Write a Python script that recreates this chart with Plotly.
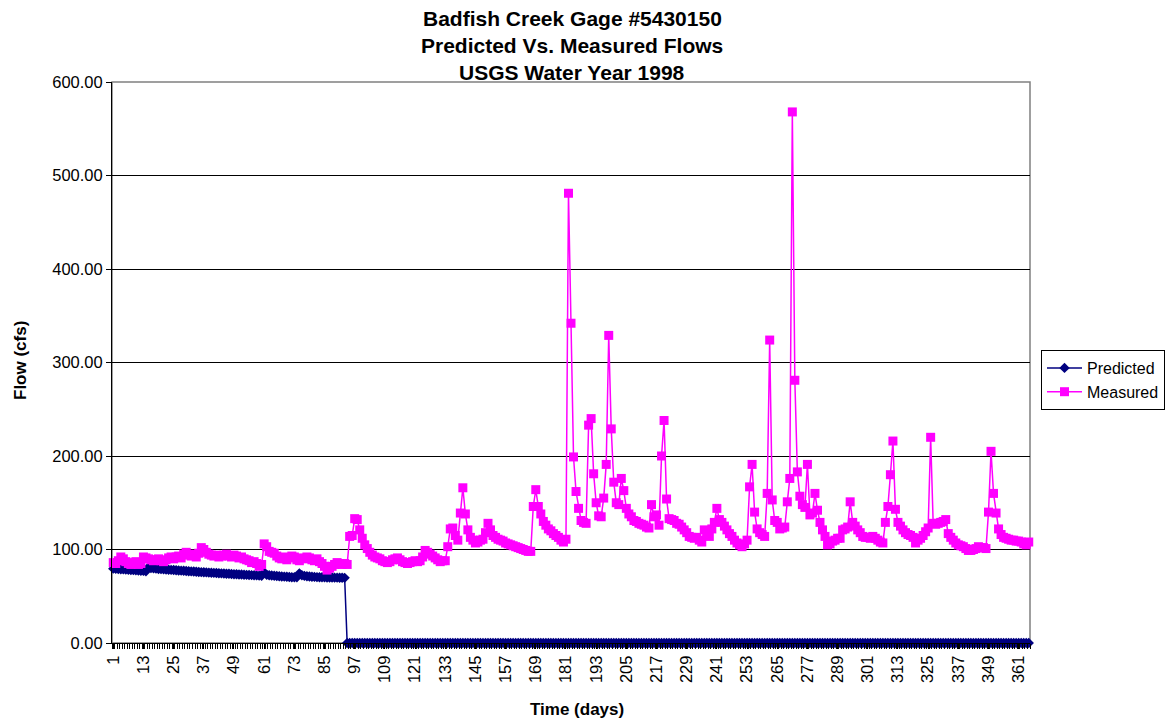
import plotly.graph_objects as go

days = list(range(1, 366))

predicted_first = [
    79.5, 79.3, 79.1, 78.9, 78.7, 78.5, 78.3, 78.1, 77.9, 77.7, 77.5, 77.3, 77.1, 76.8,
    81.0, 80.2, 79.8, 79.5, 79.2, 79.0, 78.8, 78.6, 78.4, 78.2, 78.0, 77.8, 77.6, 77.4,
    77.2, 77.0, 76.8, 76.6, 76.4, 76.2, 76.0, 75.8, 75.7, 75.5, 75.3, 75.1, 75.0, 74.8,
    74.6, 74.5, 74.3, 74.1, 74.0, 73.8, 73.6, 73.5, 73.3, 73.2, 73.0, 72.9, 72.7, 72.6,
    72.4, 72.3, 72.1, 72.0, 75.5, 73.0, 72.5, 72.2, 71.9, 71.6, 71.4, 71.2, 71.0, 70.8,
    70.6, 70.4, 70.3, 70.2, 74.5, 72.5, 71.8, 71.4, 71.1, 70.9, 70.7, 70.5, 70.4, 70.3,
    70.2, 70.1, 70.0, 70.0, 69.9, 69.9, 69.8, 69.8, 69.7,
]
predicted = predicted_first + [0.0] * (365 - len(predicted_first))

measured = [
    86, 85, 88, 92, 90, 87, 85, 84, 86, 87, 84, 85, 92, 91, 90, 89, 88, 89, 90, 88,
    87, 89, 91, 92, 90, 92, 93, 91, 95, 97, 94, 93, 95, 92, 96, 102, 100, 97, 95, 94,
    93, 94, 92, 93, 94, 95, 93, 92, 94, 93, 91, 92, 90, 89, 88, 86, 87, 85, 82, 84,
    106, 103, 98, 97, 96, 93, 91, 90, 92, 89, 91, 93, 92, 89, 88, 91, 90, 92, 91, 89,
    88, 90, 87, 85, 82, 78, 80, 82, 84, 86, 85, 84, 85, 84, 114, 115, 133, 132, 121, 112,
    105, 101, 97, 94, 92, 91, 90, 88, 87, 86, 87, 89, 90, 91, 89, 87, 86, 85, 86, 87,
    88, 87, 88, 92, 99, 97, 95, 93, 91, 89, 87, 88, 88, 103, 122, 123, 115, 110, 139, 166,
    138, 121, 113, 110, 107, 108, 110, 111, 118, 128, 121, 115, 113, 111, 110, 109, 107, 106, 105, 104,
    103, 102, 101, 100, 99, 98, 98, 146, 164, 146, 138, 130, 126, 122, 120, 117, 115, 113, 110, 108,
    111, 481, 342, 199, 162, 144, 131, 129, 128, 233, 240, 181, 150, 136, 135, 155, 191, 329, 229, 172,
    150, 148, 176, 163, 144, 138, 135, 131, 130, 128, 127, 126, 124, 123, 148, 135, 137, 126, 200, 238,
    154, 133, 132, 131, 128, 127, 124, 121, 118, 114, 113, 112, 113, 110, 108, 121, 117, 114, 122, 129,
    144, 132, 129, 125, 121, 117, 114, 110, 107, 105, 103, 106, 110, 167, 191, 140, 122, 118, 116, 114,
    160, 324, 153, 131, 129, 122, 123, 124, 151, 176, 568, 281, 183, 157, 148, 145, 191, 137, 139, 160,
    142, 129, 121, 114, 105, 106, 109, 110, 112, 112, 121, 122, 124, 151, 129, 125, 121, 118, 114, 113,
    113, 112, 114, 112, 110, 108, 107, 129, 146, 180, 216, 143, 129, 125, 121, 118, 116, 115, 113, 107,
    110, 112, 115, 119, 123, 220, 128, 127, 128, 129, 130, 132, 117, 113, 110, 107, 105, 104, 103, 101,
    99, 99, 100, 101, 103, 102, 102, 101, 140, 205, 160, 139, 122, 116, 113, 112, 111, 110, 110, 109,
    109, 108, 106, 105, 108,
]

x_tick_vals = list(range(1, 366, 12))
y_tick_vals = [0, 100, 200, 300, 400, 500, 600]
title_lines = ["Badfish Creek Gage #5430150", "Predicted Vs. Measured Flows", "USGS Water Year 1998"]

FONT = "Liberation Sans, Arial, sans-serif"

# target plot area in screenshot pixels: x 112..1030, y 82..643
L, R, T, B = 112, 1030, 82, 643
W, H = R - L, B - T
OFF = 8  # page body margin offset
FIG_W, FIG_H = 1175 - 2 * OFF, 726 - 2 * OFF


def px_x(p):
    return (p - L) / W


def px_y(p):
    return (B - p) / H


fig = go.Figure()
fig.add_trace(go.Scatter(
    x=days, y=predicted, name="Predicted", mode="lines+markers",
    line=dict(color="#000080", width=1.5),
    marker=dict(symbol="diamond", size=8, color="#000080"),
    cliponaxis=False,
))
fig.add_trace(go.Scatter(
    x=days, y=measured, name="Measured", mode="lines+markers",
    line=dict(color="#FF00FF", width=1.5),
    marker=dict(symbol="square", size=9, color="#FF00FF"),
    cliponaxis=False,
))

annotations = []
for txt, ypix in zip(title_lines, [18, 45, 72]):
    annotations.append(dict(
        text=f"<b>{txt}</b>", xref="paper", yref="paper",
        x=px_x(572), y=px_y(ypix), xanchor="center", yanchor="middle",
        showarrow=False, font=dict(family=FONT, size=21, color="black"),
    ))
annotations.append(dict(
    text="<b>Flow (cfs)</b>", xref="paper", yref="paper",
    x=px_x(20), y=px_y(361), xanchor="center", yanchor="middle", textangle=-90,
    showarrow=False, font=dict(family=FONT, size=17, color="black"),
))
annotations.append(dict(
    text="<b>Time (days)</b>", xref="paper", yref="paper",
    x=px_x(577), y=px_y(709), xanchor="center", yanchor="middle",
    showarrow=False, font=dict(family=FONT, size=17, color="black"),
))

fig.update_layout(
    width=FIG_W, height=FIG_H,
    paper_bgcolor="white", plot_bgcolor="white",
    margin=dict(l=L - OFF, r=FIG_W - (R - OFF), t=T - OFF, b=FIG_H - (B - OFF), autoexpand=False),
    font=dict(family=FONT, color="black", size=16),
    showlegend=True,
    legend=dict(
        x=px_x(1041), xanchor="left", y=px_y(380), yanchor="middle",
        bordercolor="black", borderwidth=1, bgcolor="white",
        font=dict(family=FONT, size=16, color="black"),
        itemwidth=35,
    ),
    annotations=annotations,
)

fig.update_xaxes(
    range=[0.5, 365.5], automargin=False,
    tickmode="array", tickvals=x_tick_vals, ticktext=[str(v) for v in x_tick_vals],
    tickangle=-90, ticks="outside", ticklen=5, tickcolor="black",
    minor=dict(dtick=1, tick0=0.5, ticks="outside", ticklen=5, tickcolor="black", showgrid=False),
    showline=True, linecolor="black", linewidth=1,
    showgrid=False, zeroline=False,
    tickfont=dict(family=FONT, size=16.5, color="black"),
)
fig.update_yaxes(
    range=[0, 600], automargin=False,
    tickmode="array", tickvals=y_tick_vals, ticktext=[f"{v:.2f}" for v in y_tick_vals],
    ticks="outside", ticklen=5, tickcolor="black",
    showline=True, linecolor="black", linewidth=1,
    showgrid=True, gridcolor="black", gridwidth=1, zeroline=False,
    tickfont=dict(family=FONT, size=16.5, color="black"),
)

fig.add_shape(type="rect", xref="paper", yref="paper", x0=0, y0=0, x1=1, y1=1,
              line=dict(color="#808080", width=1.5), layer="below")

fig.write_html("out.html")
